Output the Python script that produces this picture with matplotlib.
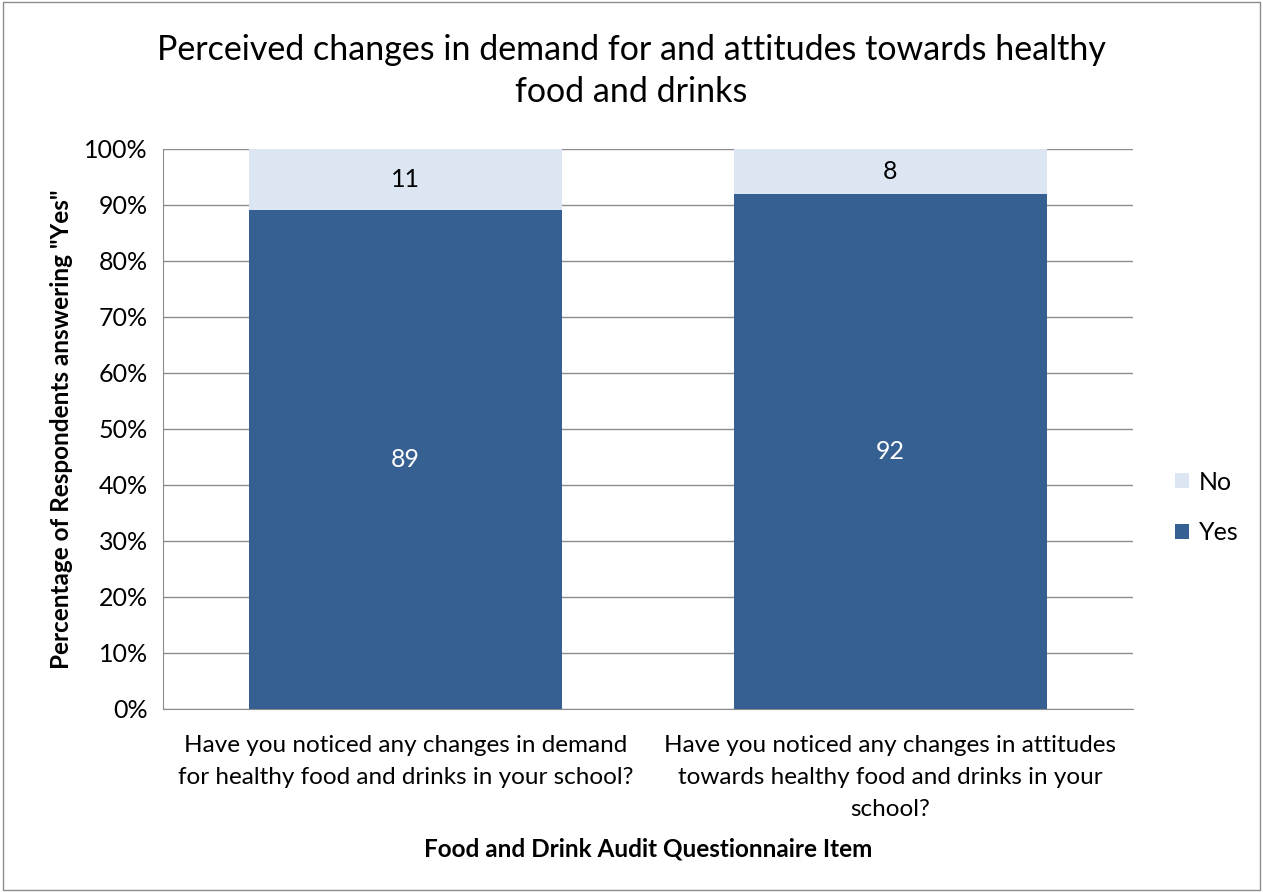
import matplotlib.pyplot as plt
from matplotlib.patches import Rectangle

plt.rcParams['font.family'] = ['Lato', 'DejaVu Sans']

# Data
questions = [
    "Have you noticed any changes in demand\nfor healthy food and drinks in your school?",
    "Have you noticed any changes in attitudes\ntowards healthy food and drinks in your\nschool?",
]
yes_vals = [89, 92]
no_vals = [11, 8]
y_ticks = [0, 10, 20, 30, 40, 50, 60, 70, 80, 90, 100]

yes_color = '#376092'
no_color = '#DCE6F2'
grid_color = '#8C8C8C'

fig = plt.figure(figsize=(12.63, 8.92), dpi=100)
ax = fig.add_axes([0.129, 0.2052, 0.768, 0.628])

x = range(len(questions))
bars_yes = ax.bar(x, yes_vals, width=0.645, color=yes_color, label='Yes', zorder=3)
bars_no = ax.bar(x, no_vals, width=0.645, bottom=yes_vals, color=no_color, label='No', zorder=3)

# Labels inside the segments
for b, v in zip(bars_yes, yes_vals):
    ax.text(b.get_x() + b.get_width() / 2, b.get_y() + b.get_height() / 2, str(v),
            ha='center', va='center', color='white', fontsize=18, zorder=4)
for b, v in zip(bars_no, no_vals):
    ax.text(b.get_x() + b.get_width() / 2, b.get_y() + b.get_height() / 2, str(v),
            ha='center', va='center', color='black', fontsize=18, zorder=4)

ax.set_xlim(-0.5, 1.5)
ax.set_ylim(0, 100)
ax.set_yticks(y_ticks)
ax.set_yticklabels([f'{t}%' for t in y_ticks], fontsize=18)
ax.set_xticks(list(x))
ax.set_xticklabels(questions, fontsize=17.5, linespacing=1.65)
ax.tick_params(axis='y', length=0, pad=11)
ax.tick_params(axis='x', length=0, pad=19)
ax.yaxis.grid(True, color=grid_color, linewidth=1, zorder=0)

for s in ['top', 'right']:
    ax.spines[s].set_visible(False)
for s in ['left', 'bottom']:
    ax.spines[s].set_color(grid_color)

ax.set_ylabel('Percentage of Respondents answering "Yes"', fontsize=17.5, fontweight='bold', labelpad=8)
ax.set_xlabel('Food and Drink Audit Questionnaire Item', fontsize=17.5, fontweight='bold', labelpad=12)

fig.suptitle('Perceived changes in demand for and attitudes towards healthy\nfood and drinks',
             fontsize=24.5, y=0.962, linespacing=1.4)

handles, labels = ax.get_legend_handles_labels()
ax.legend(handles[::-1], labels[::-1], loc='center left', bbox_to_anchor=(1.02, 0.36),
          frameon=False, fontsize=18, handlelength=0.55, handleheight=0.55,
          handletextpad=0.4, labelspacing=1.1)

# Outer chart border
fig.patches.append(Rectangle((0.002, 0.002), 0.996, 0.996, transform=fig.transFigure,
                             fill=False, edgecolor='#8C8C8C', linewidth=1))

fig.savefig('out.png', dpi=100)
